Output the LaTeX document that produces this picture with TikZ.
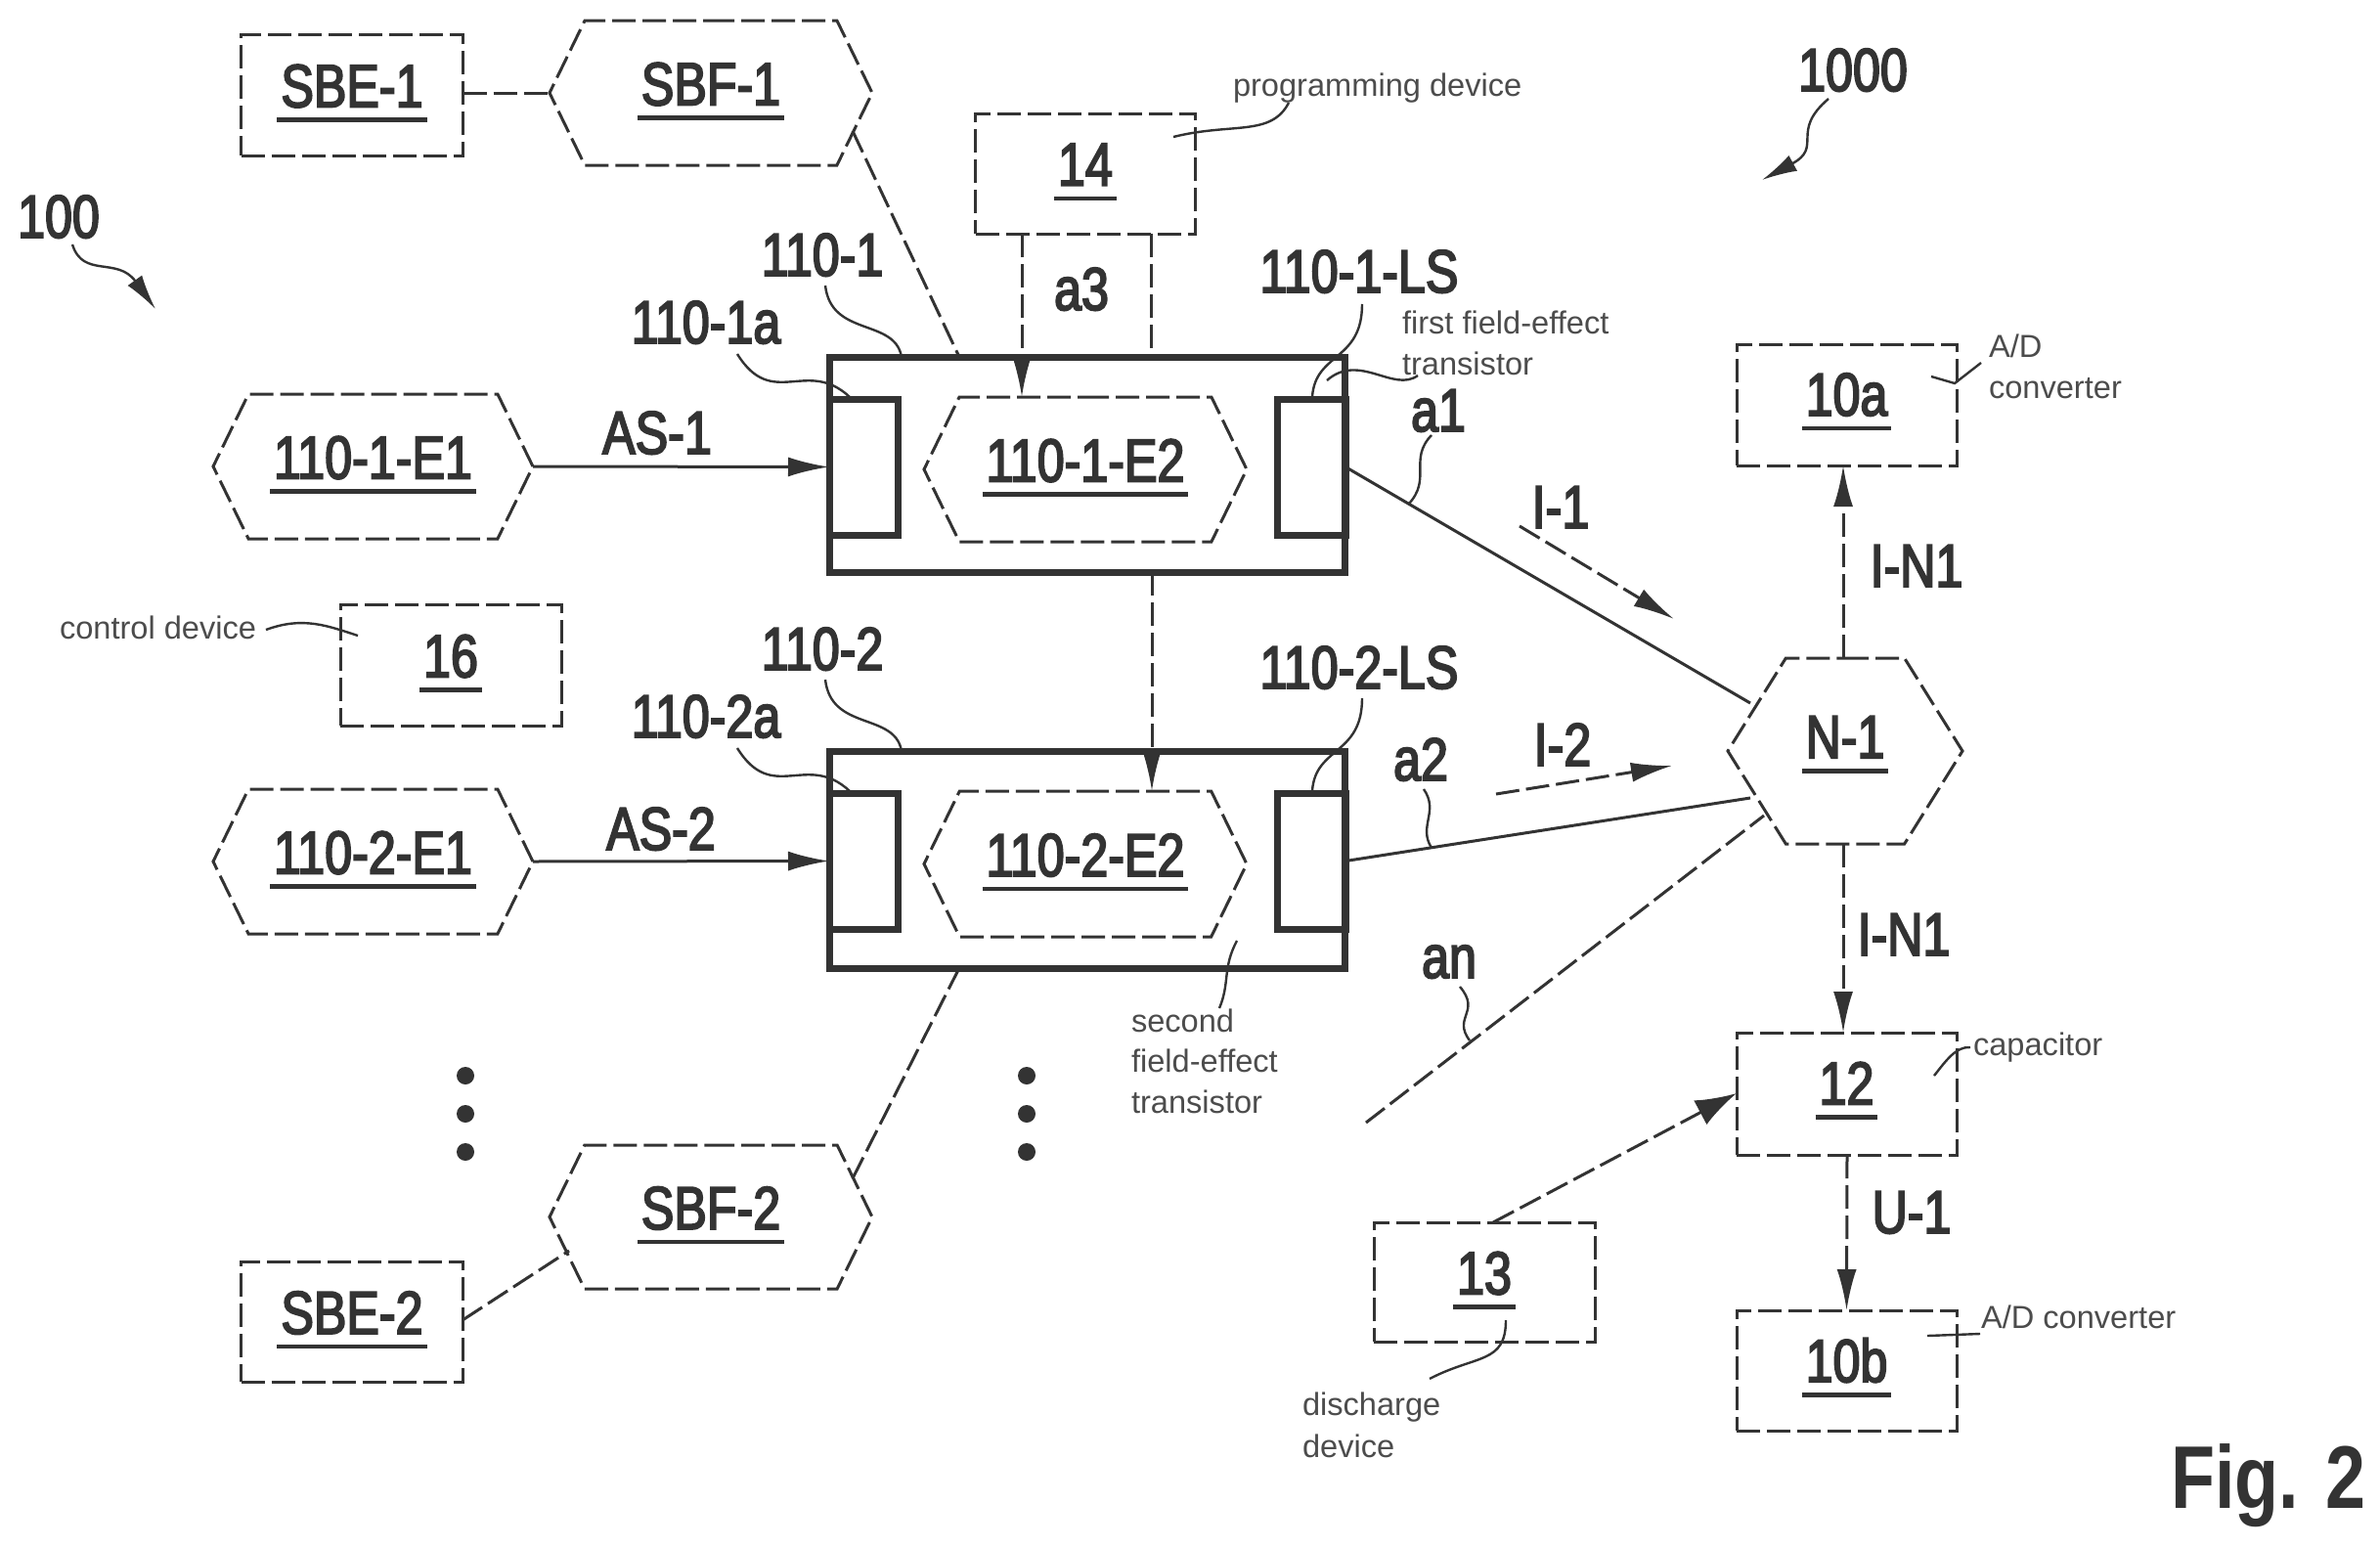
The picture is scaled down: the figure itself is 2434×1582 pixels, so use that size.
\documentclass[tikz,border=0pt]{standalone}
\usepackage{fontspec}
\setmainfont{Liberation Sans}
\newfontfamily\bigfont[FakeStretch=0.81,FakeBold=3]{Liberation Sans}
\newfontfamily\figfont[FakeStretch=0.81]{Liberation Sans Bold}
\usetikzlibrary{shapes.symbols,arrows.meta}
\definecolor{ink}{gray}{0.2}
\definecolor{thin}{gray}{0.3}
\newcommand\utxt[2][3pt]{\vbox{\setbox0=\hbox{#2}\dp0=0pt \hbox{\kern4pt\box0\kern4pt}\kern11pt\hrule height 4.5pt\kern#1}}
\tikzset{
  x=1pt,y=-1pt,
  every node/.style={inner sep=0pt,outer sep=0pt,text=ink},
  dline/.style={draw=ink,line width=3pt,dash pattern=on 24pt off 7pt},
  dbox/.style={rectangle,dline,align=center,font=\bigfont\fontsize{62}{62}\selectfont},
  hexa/.style={signal,signal to=east and west,signal pointer angle=#1,dline,font=\bigfont\fontsize{62}{62}\selectfont},
  hexa/.default=128,
  refbox/.style={rectangle,draw=ink,line width=7pt},
  big/.style={anchor=base,font=\bigfont\fontsize{62}{62}\selectfont},
  small/.style={anchor=base west,text=thin,font=\fontsize{32.6}{32.6}\selectfont},
  lead/.style={draw=ink,line width=2.4pt},
  conn/.style={draw=ink,line width=3pt},
  hd/.style={-{Latex[length=42pt,width=20pt]}},
  hdw/.style={-{Latex[length=42pt,width=28pt]}},
  bullet/.style={circle,fill=ink,minimum size=18pt}
}
\begin{document}
\begin{tikzpicture}
\useasboundingbox (0,0) rectangle (2434,1582);
% dashed boxes
\node[dbox,minimum width=227pt,minimum height=124pt] (sbeA) at (360,97) {\utxt{SBE-1}};
\node[dbox,minimum width=227pt,minimum height=123pt] (sbeB) at (360,1351.5) {\utxt{SBE-2}};
\node[dbox,minimum width=225pt,minimum height=123pt] (prog) at (1110,177.5) {\utxt{14}};
\node[dbox,minimum width=226pt,minimum height=124pt] (ctrl) at (461,680) {\utxt{16}};
\node[dbox,minimum width=225pt,minimum height=124pt] (adA) at (1888.5,414) {\utxt[6pt]{10a}};
\node[dbox,minimum width=225pt,minimum height=125pt] (cap) at (1888.5,1118.5) {\utxt[6pt]{12}};
\node[dbox,minimum width=226pt,minimum height=122pt] (dis) at (1518,1311) {\utxt{13}};
\node[dbox,minimum width=225pt,minimum height=123pt] (adB) at (1888.5,1401.5) {\utxt[6pt]{10b}};
% hexagons
\node[hexa,minimum width=330pt,minimum height=148pt] (sbfA) at (727,95) {\utxt{SBF-1}};
\node[hexa,minimum width=330pt,minimum height=147pt] (sbfB) at (727,1244.5) {\utxt{SBF-2}};
\node[hexa,minimum width=327pt,minimum height=148pt] (eAa) at (381.5,477) {\utxt{110-1-E1}};
\node[hexa,minimum width=327pt,minimum height=148pt] (eBa) at (381.5,881) {\utxt{110-2-E1}};
\node[hexa,minimum width=330pt,minimum height=148pt] (eAb) at (1110,480) {\utxt{110-1-E2}};
\node[hexa,minimum width=330pt,minimum height=149pt] (eBb) at (1110,883.5) {\utxt{110-2-E2}};
\node[hexa=116,minimum width=240pt,minimum height=190pt] (netz) at (1887,768) {\utxt[13pt]{N-1}};
% switch housings
\node[refbox,minimum width=527pt,minimum height=220pt] (hA) at (1111.5,475) {};
\node[refbox,minimum width=527pt,minimum height=222pt] (hB) at (1111.5,879) {};
\node[refbox,minimum width=70pt,minimum height=139pt] (aA) at (883,477.5) {};
\node[refbox,minimum width=70pt,minimum height=139pt] (lA) at (1341,477.5) {};
\node[refbox,minimum width=70pt,minimum height=139pt] (aB) at (883,880.5) {};
\node[refbox,minimum width=70pt,minimum height=139pt] (lB) at (1341,880.5) {};
% connector anchors
\coordinate (cS1) at (872,134);
\coordinate (cS2) at (872,1205);
\coordinate (hAs) at (981,365);
\coordinate (hBs) at (981,990);
\coordinate (pA) at (1045,239);
\coordinate (pAe) at (1045,406);
\coordinate (pB) at (1177,239);
\coordinate (pBe) at (1177,365);
\coordinate (mA) at (1178,585);
\coordinate (mB) at (1178,809);
\coordinate (nA) at (1790,719);
\coordinate (nB) at (1790,816);
\coordinate (nN) at (1804,834);
\coordinate (nF) at (1397,1148);
\coordinate (ia) at (1554,538);
\coordinate (ib) at (1712,633);
\coordinate (ic) at (1530,812);
\coordinate (id) at (1710,783);
\coordinate (dT) at (1527,1250);
\coordinate (cL) at (1776,1118);
\coordinate (bS) at (473,1350);
\coordinate (fS) at (582,1279);
% connectors
\draw[dline] (sbeA.east |- sbfA.west) -- (sbfA.west);
\draw[dline] (bS) -- (fS);
\draw[dline] (cS1) -- (hAs);
\draw[dline] (cS2) -- (hBs);
\draw[dline,hd] (pA) -- (pAe);
\draw[dline] (pB) -- (pBe);
\draw[dline,hd] (mA) -- (mB);
\draw[conn,hd] (eAa.east) -- (aA.west);
\draw[conn,hd] (eBa.east) -- (aB.west);
\draw[conn] (lA.east) -- (nA);
\draw[conn] (lB.east) -- (nB);
\draw[dline] (nF) -- (nN);
\draw[dline,hd] (ia) -- (ib);
\draw[dline,hd] (ic) -- (id);
\draw[dline,hd] (netz.north -| adA.south) ++(-3.5,0) -- ++(0,-197);
\draw[dline,hd] (1885,863) -- (cap.north -| 1885,0);
\draw[dline,hd] (1889,1181) -- (adB.north);
\draw[dline,hdw] (dT) -- (cL);
% labels
\node[big] (t1) at (60,243) {100};
\node[big] (t2) at (1895,93) {1000};
\node[big] (t3) at (841,282) {110-1};
\node[big] (t4) at (722,351) {110-1a};
\node[big] (t5) at (841,685) {110-2};
\node[big] (t6) at (722,754) {110-2a};
\node[big] (t7) at (1390,299) {110-1-LS};
\node[big] (t8) at (1390,704) {110-2-LS};
\node[big] (t9) at (672,464) {AS-1};
\node[big] (t10) at (676,869) {AS-2};
\node[big] (t11) at (1106,317) {a3};
\node[big] (t12) at (1471,441) {a1};
\node[big] (t13) at (1453,798) {a2};
\node[big] (t14) at (1482,1000) {an};
\node[big] (t15) at (1596,540) {I-1};
\node[big] (t16) at (1598,783) {I-2};
\node[big] (t17) at (1960,600) {I-N1};
\node[big] (t18) at (1947,977) {I-N1};
\node[big] (t19) at (1955,1261) {U-1};
\node[big,font=\figfont\fontsize{91}{91}\selectfont] (t20) at (2320,1542) {Fig. 2};
\node[small] (s1) at (61,653) {control device};
\node[small] (s2) at (1261,98) {programming device};
\node[small] (s3) at (1434,341) {first field-effect};
\node[small] (s4) at (1434,383) {transistor};
\node[small] (s5) at (2034,365) {A/D};
\node[small] (s6) at (2034,407) {converter};
\node[small] (s7) at (2018,1079) {capacitor};
\node[small] (s8) at (2026,1358) {A/D converter};
\node[small] (s9) at (1157,1055) {second};
\node[small] (s10) at (1157,1096) {field-effect};
\node[small] (s11) at (1157,1138) {transistor};
\node[small] (s12) at (1332,1447) {discharge};
\node[small] (s13) at (1332,1490) {device};
% leaders
\draw[lead,-{Latex[length=36pt,width=18pt]}] (74,250) .. controls (85,285) and (120,262) .. (159,316);
\draw[lead,-{Latex[length=36pt,width=18pt]}] (1870,101) .. controls (1830,135) and (1865,150) .. (1802,184);
\draw[lead] (844,292) .. controls (850,345) and (915,325) .. (922,365);
\draw[lead] (844,695) .. controls (850,748) and (915,728) .. (922,768);
\draw[lead] (754,362) .. controls (790,420) and (825,365) .. (869,406);
\draw[lead] (754,765) .. controls (790,823) and (825,768) .. (869,809);
\draw[lead] (1393,311) .. controls (1393,370) and (1345,360) .. (1342,406);
\draw[lead] (1393,714) .. controls (1393,773) and (1345,763) .. (1342,809);
\draw[lead] (1450,384) .. controls (1425,402) and (1390,360) .. (1357,389);
\draw[lead] (1464,445) .. controls (1440,470) and (1465,490) .. (1440,516);
\draw[lead] (1456,807) .. controls (1472,830) and (1450,845) .. (1464,867);
\draw[lead] (1493,1009) .. controls (1515,1035) and (1485,1040) .. (1503,1064);
\draw[lead] (272,644) .. controls (310,630) and (335,640) .. (366,650);
\draw[lead] (1318,105) .. controls (1300,140) and (1260,125) .. (1200,140);
\draw[lead] (2026,371) -- (1999,392) -- (1975,385);
\draw[lead] (2015,1071) .. controls (2000,1070) and (1990,1085) .. (1978,1100);
\draw[lead] (1540,1350) .. controls (1540,1395) and (1510,1385) .. (1462,1410);
\draw[lead] (2025,1364) -- (1971,1366);
\draw[lead] (1265,962) .. controls (1250,990) and (1258,1005) .. (1247,1031);
% dots
\node[bullet] (d1) at (476,1100) {};
\node[bullet] (d2) at (476,1139) {};
\node[bullet] (d3) at (476,1178) {};
\node[bullet] (d4) at (1050,1100) {};
\node[bullet] (d5) at (1050,1139) {};
\node[bullet] (d6) at (1050,1178) {};
\end{tikzpicture}
\end{document}
